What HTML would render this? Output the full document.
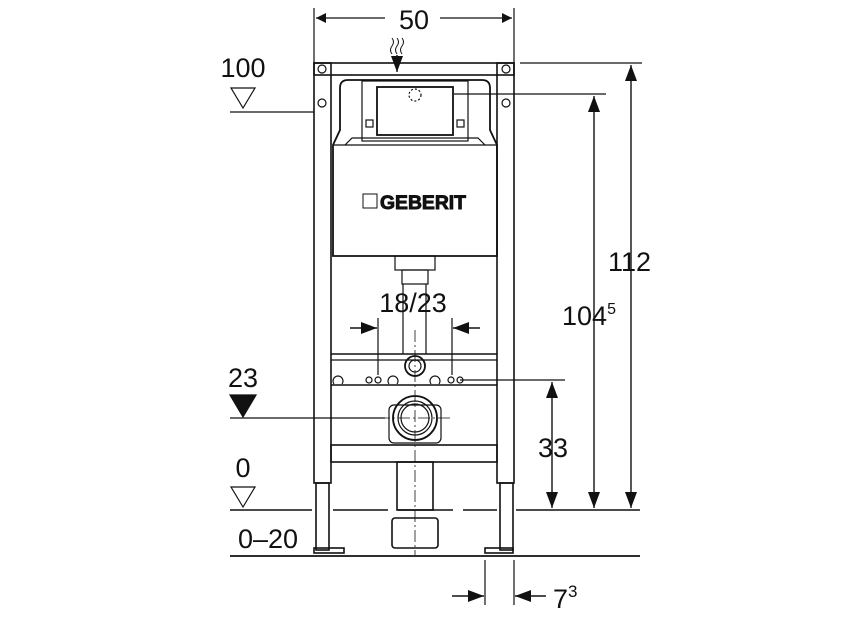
<!DOCTYPE html>
<html><head><meta charset="utf-8"><style>
html,body{margin:0;padding:0;background:#fff}
svg{display:block}
text{font-family:"Liberation Sans",sans-serif;fill:#111}
</style></head><body>
<svg width="854" height="634" viewBox="0 0 854 634" xmlns="http://www.w3.org/2000/svg">
<defs>
<marker id="a" viewBox="0 0 10 10" refX="10" refY="5" markerWidth="10" markerHeight="10" markerUnits="userSpaceOnUse" orient="auto-start-reverse"><path d="M0,0L10,5L0,10z" fill="#111"/></marker>
<marker id="b" viewBox="0 0 16 12" refX="16" refY="6" markerWidth="16" markerHeight="12" markerUnits="userSpaceOnUse" orient="auto-start-reverse"><path d="M0,0L16,6L0,12z" fill="#111"/></marker>
</defs>
<g stroke="#111" fill="none" stroke-width="1.2">
<line x1="314" y1="8" x2="314" y2="63"/><line x1="514" y1="8" x2="514" y2="63"/>
<line x1="316" y1="18" x2="385" y2="18" marker-start="url(#a)"/>
<line x1="440" y1="18" x2="512" y2="18" marker-end="url(#a)"/>
<rect x="314" y="63" width="200" height="12" stroke-width="1.6"/>
<rect x="314" y="63" width="17" height="420" stroke-width="1.6"/>
<rect x="497" y="63" width="17" height="420" stroke-width="1.6"/>
<rect x="316" y="483" width="13" height="67" stroke-width="1.6"/>
<rect x="500" y="483" width="13" height="67" stroke-width="1.6"/>
<rect x="314" y="548" width="30" height="5" stroke-width="1.6"/>
<rect x="485" y="548" width="28" height="5" stroke-width="1.6"/>
<circle cx="322" cy="69" r="4"/><circle cx="506" cy="69" r="4"/>
<circle cx="322" cy="103" r="4"/><circle cx="506" cy="103" r="4"/>
<path d="M333,256 V145 L340,130 V88 Q340,80 348,80 H482 Q490,80 490,88 V130 L497,145 V256 Z" stroke-width="1.8"/>
<line x1="333" y1="145" x2="497" y2="145" stroke-width="1.2"/>
<path d="M345,145 L352,138 H478 L485,145"/>
<rect x="362" y="81" width="106" height="60"/>
<rect x="377" y="87" width="76" height="48" stroke-width="1.8"/>
<rect x="366" y="120" width="7" height="7"/><rect x="457" y="120" width="7" height="7"/>
<circle cx="415" cy="95" r="6" stroke-dasharray="2,2"/>
<rect x="395" y="256" width="40" height="14"/>
<rect x="402" y="270" width="26" height="14"/>
<line x1="403" y1="284" x2="403" y2="354"/><line x1="426" y1="284" x2="426" y2="354"/>
<line x1="331" y1="354" x2="497" y2="354" stroke-width="1.6"/>
<line x1="331" y1="360" x2="497" y2="360"/>
<line x1="331" y1="385" x2="497" y2="385" stroke-width="1.6"/>
<circle cx="415" cy="366" r="10" stroke-width="1.8"/><circle cx="415" cy="366" r="6"/>
<circle cx="369" cy="380" r="3"/><circle cx="378" cy="380" r="3"/>
<circle cx="451" cy="380" r="3"/><circle cx="460" cy="380" r="3"/>
<path d="M334,384 a5,5 0 1 1 8,0"/><path d="M389,384 a5,5 0 1 1 8,0"/><path d="M431,384 a5,5 0 1 1 8,0"/>
<circle cx="415" cy="418" r="22" stroke-width="1.8"/><circle cx="415" cy="418" r="17"/><circle cx="415" cy="418" r="14"/>
<rect x="389" y="405" width="52" height="38" rx="5"/>
<rect x="331" y="445" width="166" height="17" stroke-width="1.6"/>
<rect x="397" y="462" width="36" height="48" stroke-width="1.6"/>
<rect x="392" y="518" width="46" height="30" rx="3" stroke-width="1.6"/>
<line x1="415" y1="330" x2="415" y2="555" stroke-dasharray="12,3,2,3" stroke-width="0.8"/>
<line x1="378" y1="418" x2="452" y2="418" stroke-dasharray="12,3,2,3" stroke-width="0.8"/>
<line x1="230" y1="510" x2="312" y2="510" stroke-width="1.6"/>
<line x1="333" y1="510" x2="497" y2="510" stroke-dasharray="55,10" stroke-width="1.6"/>
<line x1="516" y1="510" x2="640" y2="510" stroke-width="1.6"/>
<line x1="230" y1="556" x2="640" y2="556" stroke-width="1.8"/>
<line x1="230" y1="112" x2="314" y2="112"/>
<path d="M231,88 H255 L243,108 Z"/>
<line x1="230" y1="418" x2="385" y2="418"/>
<path d="M230,395 H256 L243,417 Z" fill="#111"/>
<path d="M231,487 H255 L243,507 Z"/>
<line x1="520" y1="63" x2="642" y2="63"/>
<line x1="454" y1="94" x2="606" y2="94"/>
<line x1="460" y1="380" x2="565" y2="380"/>
<line x1="631" y1="65" x2="631" y2="508" marker-start="url(#b)" marker-end="url(#b)" stroke-width="1.4"/>
<line x1="594" y1="96" x2="594" y2="508" marker-start="url(#b)" marker-end="url(#b)" stroke-width="1.4"/>
<line x1="552" y1="382" x2="552" y2="508" marker-start="url(#b)" marker-end="url(#b)" stroke-width="1.4"/>
<line x1="378" y1="318" x2="378" y2="375"/><line x1="452" y1="318" x2="452" y2="375"/>
<line x1="350" y1="328" x2="377" y2="328" marker-end="url(#b)" stroke-width="1.4"/>
<line x1="480" y1="328" x2="453" y2="328" marker-end="url(#b)" stroke-width="1.4"/>
<line x1="485" y1="560" x2="485" y2="605"/><line x1="514" y1="560" x2="514" y2="605"/>
<line x1="452" y1="596" x2="484" y2="596" marker-end="url(#b)" stroke-width="1.4"/>
<line x1="546" y1="596" x2="515" y2="596" marker-end="url(#b)" stroke-width="1.4"/>
<line x1="397" y1="55" x2="397" y2="72" marker-end="url(#b)" stroke-width="1.4"/>
<path d="M392,38 q3,4 0,8 q-3,4 0,8 M397,38 q3,4 0,8 q-3,4 0,8 M402,38 q3,4 0,8 q-3,4 0,8" stroke-width="1"/>
</g>
<rect x="363" y="194" width="14" height="14" fill="none" stroke="#111" stroke-width="1"/>
<text x="423" y="209" font-size="19" font-weight="bold" text-anchor="middle" fill="#fff" stroke="#111" stroke-width="0.9" textLength="86" lengthAdjust="spacingAndGlyphs">GEBERIT</text>
<g font-size="27">
<text x="414" y="29" text-anchor="middle">50</text>
<text x="243" y="77" text-anchor="middle">100</text>
<text x="243" y="387" text-anchor="middle">23</text>
<text x="243" y="477" text-anchor="middle">0</text>
<text x="268" y="548" text-anchor="middle">0–20</text>
<text x="608" y="271">112</text>
<text x="562" y="325">104<tspan font-size="16" dy="-11">5</tspan></text>
<text x="538" y="457">33</text>
<text x="413" y="312" text-anchor="middle">18/23</text>
<text x="553" y="608">7<tspan font-size="17" dy="-11">3</tspan></text>
</g>
</svg>
</body></html>
